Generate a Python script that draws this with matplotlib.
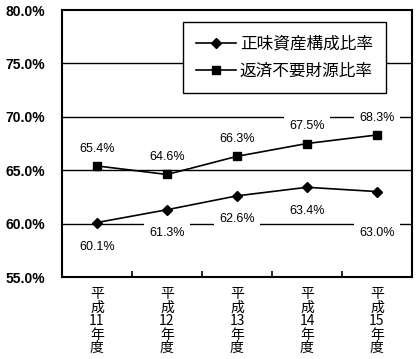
import numpy as np
import matplotlib.pyplot as plt

# 年度と比率
years = ["平\n成\n11\n年\n度", "平\n成\n12\n年\n度", "平\n成\n13\n年\n度",
         "平\n成\n14\n年\n度", "平\n成\n15\n年\n度"]
net_assets = [60.1, 61.3, 62.6, 63.4, 63.0]      # 正味資産構成比率
no_repay = [65.4, 64.6, 66.3, 67.5, 68.3]        # 返済不要財源比率
yticks = [55, 60, 65, 70, 75, 80]

jp = ["Noto Sans CJK JP", "DejaVu Sans"]
num = ["Liberation Sans", "DejaVu Sans"]

fig = plt.figure(figsize=(4.2, 3.59), dpi=100)
ax = fig.add_axes([0.1476, 0.2284, 0.8333, 0.7437])

x = np.arange(len(years))
ax.set_xlim(-0.5, len(years) - 0.5)
ax.set_ylim(55, 80)

# 目盛線
for v in yticks[1:-1]:
    ax.axhline(v, color="black", lw=1.0, zorder=1)

l1, = ax.plot(x, net_assets, color="black", lw=1.2, marker="D", ms=5,
              label="正味資産構成比率", zorder=3)
l2, = ax.plot(x, no_repay, color="black", lw=1.2, marker="s", ms=6,
              label="返済不要財源比率", zorder=3)

# データラベル
up_off = [17, 17, 17, 18, 17]
down_off = [24, 23, 23, 24, 41]
for i in range(len(x)):
    ax.annotate("%.1f%%" % no_repay[i], (x[i], no_repay[i]),
                xytext=(0, up_off[i]), textcoords="offset pixels",
                ha="center", va="center", fontsize=9, family=num,
                bbox=dict(boxstyle="square,pad=0.4", fc="white", ec="none"),
                zorder=4)
    ax.annotate("%.1f%%" % net_assets[i], (x[i], net_assets[i]),
                xytext=(0, -down_off[i]), textcoords="offset pixels",
                ha="center", va="center", fontsize=9, family=num,
                bbox=dict(boxstyle="square,pad=0.4", fc="white", ec="none"),
                zorder=4)

ax.set_yticks(yticks)
ax.set_yticklabels(["%.1f%%" % v for v in yticks], fontsize=10,
                   fontweight="bold", family=num)
ax.tick_params(axis="y", length=0, pad=12)

ax.set_xticks(x)
ax.set_xticklabels(years, fontsize=10, family=jp, linespacing=0.97,
                   va="top")
ax.set_xticks(x[:-1] + 0.5, minor=True)
ax.tick_params(axis="x", which="major", length=0, pad=7)
ax.tick_params(axis="x", which="minor", direction="in", length=4,
               width=1.2, color="black")

for s in ax.spines.values():
    s.set_linewidth(1.5)
    s.set_color("black")

leg = ax.legend(handles=[l1, l2], loc="upper left",
                bbox_to_anchor=(0.346, 0.955), borderaxespad=0,
                prop={"family": jp, "size": 12},
                frameon=True, fancybox=False, edgecolor="black",
                framealpha=1, handlelength=2.4, handletextpad=0.2,
                borderpad=0.8, labelspacing=0.6)
leg.get_frame().set_linewidth(1.0)
leg.set_zorder(5)

fig.savefig("out.png", dpi=100)
